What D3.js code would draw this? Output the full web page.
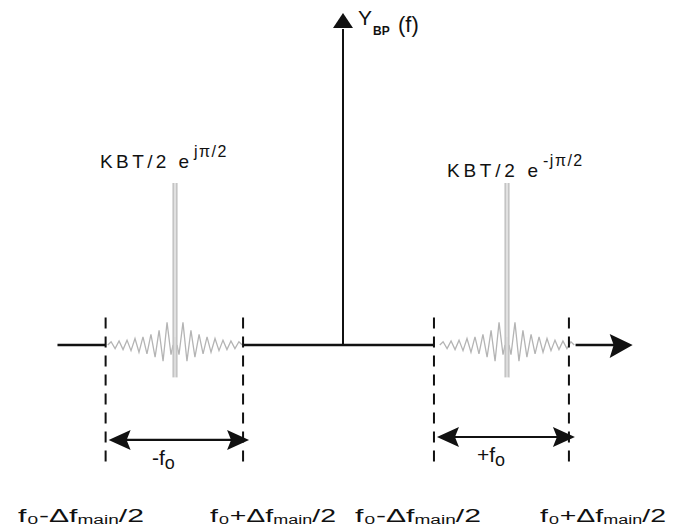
<!DOCTYPE html>
<html><head><meta charset="utf-8">
<script src="https://cdn.jsdelivr.net/npm/d3@7"></script>
<style>body{margin:0;background:#fff}svg{display:block}text{font-family:"Liberation Sans",Arial,sans-serif;fill:#111}</style>
</head><body><svg id="c" width="677" height="530"></svg>
<script>
// ---- data (frequency in units of f0, amplitude relative to peak) ----
const peakCenters = [-1.012, 0.988];
const bandLeftEdges = [-1.43, 0.548];
const bandRightEdges = [-0.602, 1.361];
const peakLabelMain = ["KBT/2 e", "KBT/2 e"];
const peakLabelSup = ["jπ/2", "-jπ/2"];
const bandLabelMain = ["-f", "+f"];
const bandLabelSub = ["o", "o"];
const edgeLabelMain = ["f₀-Δf", "f₀+Δf", "f₀-Δf", "f₀+Δf"];
const edgeLabelSub = ["main", "main", "main", "main"];
const edgeLabelEnd = ["/2", "/2", "/2", "/2"];
const mainLobeTop = 1.0;
const mainLobeBottom = -0.2;
const lobeOffsets = [0.024, 0.048, 0.072, 0.096, 0.120, 0.145, 0.169, 0.193, 0.217, 0.241, 0.265, 0.289, 0.313, 0.337, 0.361, 0.385, 0.405];
const lobeValues  = [-0.06, 0.14, -0.10, 0.09, -0.075, 0.065, -0.055, 0.05, -0.045, 0.04, -0.035, 0.03, -0.028, 0.025, -0.022, 0.02, 0];
const axisLabel = ["Y", "BP", "(f)"];

const svg = d3.select("#c");
const x = d3.scaleLinear().domain([-1.5, 1.5]).range([94, 592]);
const y = d3.scaleLinear().domain([0, 1]).range([345, 183]);
const ink = "#111";

// ---- spectra (gray) ----
const line = d3.line().x(d => x(d[0])).y(d => y(d[1]));
peakCenters.forEach((c, i) => {
  [-1, 1].forEach(side => {
    const pts = [[c + side * 0.012, 0]].concat(lobeOffsets.map((o, k) => [c + side * o, lobeValues[k]]));
    svg.append("path").attr("d", line(pts)).attr("fill", "none")
      .attr("stroke", "#b4b4b4").attr("stroke-width", 1.3);
    svg.append("line").attr("x1", x(c + side * 0.009)).attr("x2", x(c + side * 0.009))
      .attr("y1", y(mainLobeBottom)).attr("y2", y(mainLobeTop))
      .attr("stroke", "#c4c4c4").attr("stroke-width", 2.2);
  });
  svg.append("line").attr("x1", x(c)).attr("x2", x(c))
    .attr("y1", y(0.05)).attr("y2", y(mainLobeTop))
    .attr("stroke", "#e2e2e2").attr("stroke-width", 1.5);
});

// ---- horizontal axis (black segments outside the bands) ----
const segs = [[-1.72, bandLeftEdges[0]], [bandRightEdges[0], bandLeftEdges[1]], [bandRightEdges[1] + 0.04, 1.68]];
segs.forEach(s => svg.append("line").attr("x1", x(s[0])).attr("x2", x(s[1]))
  .attr("y1", y(0)).attr("y2", y(0)).attr("stroke", ink).attr("stroke-width", 2.4));
const tipX = x(1.745);
svg.append("path").attr("d", `M${tipX},${y(0)} L${tipX - 23},${y(0) - 11} L${tipX - 19},${y(0)} L${tipX - 23},${y(0) + 13} Z`).attr("fill", ink);

// ---- vertical axis ----
svg.append("line").attr("x1", x(0)).attr("x2", x(0)).attr("y1", y(0)).attr("y2", y(1.95))
  .attr("stroke", ink).attr("stroke-width", 2);
const tipY = y(2.05);
svg.append("path").attr("d", `M${x(0)},${tipY} L${x(0) - 10},${tipY + 15} L${x(0) + 10},${tipY + 15} Z`).attr("fill", ink);
svg.append("text").attr("x", x(0) + 15).attr("y", 25).attr("font-size", 21).attr("textLength", 11).text(axisLabel[0]);
svg.append("text").attr("x", x(0) + 30).attr("y", 35).attr("font-size", 12).attr("font-weight", "bold").text(axisLabel[1]);
svg.append("text").attr("x", x(0) + 55).attr("y", 32).attr("font-size", 22).text(axisLabel[2]);

// ---- dashed band edges ----
bandLeftEdges.concat(bandRightEdges).forEach(e => {
  svg.append("line").attr("x1", x(e)).attr("x2", x(e)).attr("y1", y(0.17)).attr("y2", y(-0.76))
    .attr("stroke", ink).attr("stroke-width", 2).attr("stroke-dasharray", "11,8");
});

// ---- double arrows + band labels ----
const arrowYs = [-0.586, -0.568];
peakCenters.forEach((c, i) => {
  const ay = y(arrowYs[i]);
  const a = x(bandLeftEdges[i]) + 3, b = x(bandRightEdges[i]) + 6;
  svg.append("line").attr("x1", a + 10).attr("x2", b - 10).attr("y1", ay).attr("y2", ay).attr("stroke", ink).attr("stroke-width", 2.2);
  svg.append("path").attr("d", `M${a},${ay} L${a + 22},${ay - 10} L${a + 18},${ay} L${a + 22},${ay + 10} Z`).attr("fill", ink);
  svg.append("path").attr("d", `M${b},${ay} L${b - 22},${ay - 10} L${b - 18},${ay} L${b - 22},${ay + 10} Z`).attr("fill", ink);
  const t = svg.append("text").attr("x", x(c) - (i === 0 ? 23 : 30)).attr("y", ay + 25).attr("font-size", 21);
  t.append("tspan").text(bandLabelMain[i]);
  t.append("tspan").attr("font-size", 18).attr("dy", 4).text(bandLabelSub[i]);
});

// ---- peak labels ----
const peakLabelX = [100, 447], peakLabelY = [168, 177], peakLabelW = [89, 91];
peakCenters.forEach((c, i) => {
  svg.append("text").attr("x", peakLabelX[i]).attr("y", peakLabelY[i]).attr("font-size", 19)
    .attr("textLength", peakLabelW[i]).attr("lengthAdjust", "spacing").text(peakLabelMain[i]);
  svg.append("text").attr("x", peakLabelX[i] + peakLabelW[i] + 5).attr("y", peakLabelY[i] - 11).attr("font-size", 16)
    .attr("letter-spacing", 1.5).text(peakLabelSup[i]);
});

// ---- bottom edge labels ----
const edgeLabelX = [18, 210, 355, 540];
edgeLabelMain.forEach((m, i) => {
  const t = svg.append("text").attr("x", edgeLabelX[i]).attr("y", 522).attr("font-size", 19)
    .attr("textLength", 126).attr("lengthAdjust", "spacingAndGlyphs");
  t.append("tspan").text(m);
  t.append("tspan").attr("font-size", 12).attr("dy", 2).text(edgeLabelSub[i]);
  t.append("tspan").attr("dy", -2).text(edgeLabelEnd[i]);
});
</script></body></html>
